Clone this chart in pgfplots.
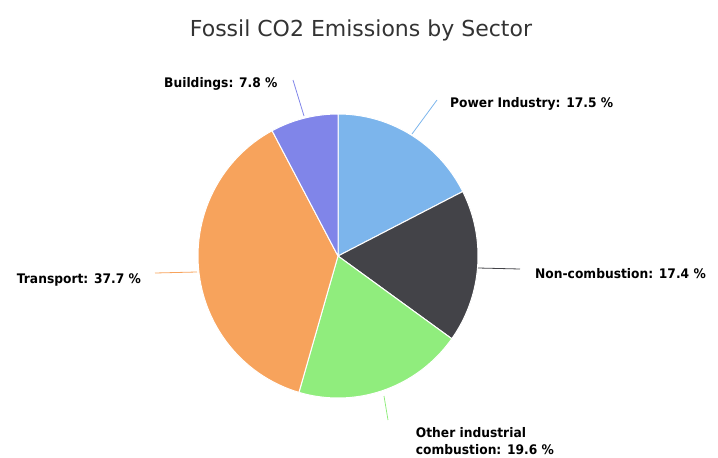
\documentclass[border=0pt]{standalone}
\usepackage{pgfplots}
\pgfplotsset{compat=1.18}
\usepackage{pgfplotstable}
\usepackage{fontspec}
\setmainfont{DejaVu Sans}
\newfontfamily\lblfont{DejaVu Sans}[FakeStretch=0.93]
\definecolor{c0}{HTML}{7CB5EC}
\definecolor{c1}{HTML}{434348}
\definecolor{c2}{HTML}{90ED7D}
\definecolor{c3}{HTML}{F7A35C}
\definecolor{c4}{HTML}{8085E9}
\definecolor{titlegray}{HTML}{333333}
\pgfplotstableread{
sector pct
Power 17.5
Noncomb 17.4
Other 19.6
Transport 37.7
Buildings 7.8
}\piedata
\begin{document}
\begin{tikzpicture}
\begin{axis}[width=718pt,height=458pt,scale only axis,
  xmin=0,xmax=718,ymin=0,ymax=458,y dir=reverse,hide axis,clip=false]
\path (axis cs:0,0) rectangle (axis cs:718,458);
\def\cum{0}
\pgfplotsforeachungrouped \i in {0,...,4}{%
  \pgfplotstablegetelem{\i}{pct}\of\piedata
  \pgfmathsetmacro\s{\cum}%
  \pgfmathsetmacro\cum{\cum+\pgfplotsretval}%
  \edef\tmp{\noexpand\addplot[fill=c\i, draw=white, line width=1pt, line join=round,
     domain=\s:\cum, samples=60, variable=\noexpand\t]
     ({338+140*sin(3.6*\noexpand\t)},{256-142*cos(3.6*\noexpand\t)}) -- (axis cs:338,256) -- cycle;}%
  \tmp
}
% connectors
\addplot[c0, line width=0.8pt] coordinates {(437,100) (412,134)};
\addplot[c1, line width=0.8pt] coordinates {(478,268) (520,269)};
\addplot[c2, line width=0.8pt] coordinates {(384,396) (388,420)};
\addplot[c3, line width=0.8pt] coordinates {(155,273) (197,272)};
\addplot[c4, line width=0.8pt] coordinates {(293,80) (304,116)};
% title
\node[font=\fontsize{22}{26}\selectfont, text=titlegray, anchor=base, inner sep=0pt] at (axis cs:361,36.5) {Fossil CO2 Emissions by Sector};
% labels
\begin{scope}[every node/.style={font=\lblfont\bfseries\fontsize{13.2}{17}\selectfont, text=black, inner sep=0pt, anchor=base west}]
\node at (axis cs:164,87.5) {Buildings: 7.8 \%};
\node at (axis cs:450,107.7) {Power Industry: 17.5 \%};
\node at (axis cs:535,278.3) {Non-combustion: 17.4 \%};
\node at (axis cs:16.7,283.3) {Transport: 37.7 \%};
\node at (axis cs:415.7,437.3) {Other industrial};
\node at (axis cs:415.7,454) {combustion: 19.6 \%};
\end{scope}
\end{axis}
\end{tikzpicture}
\end{document}
